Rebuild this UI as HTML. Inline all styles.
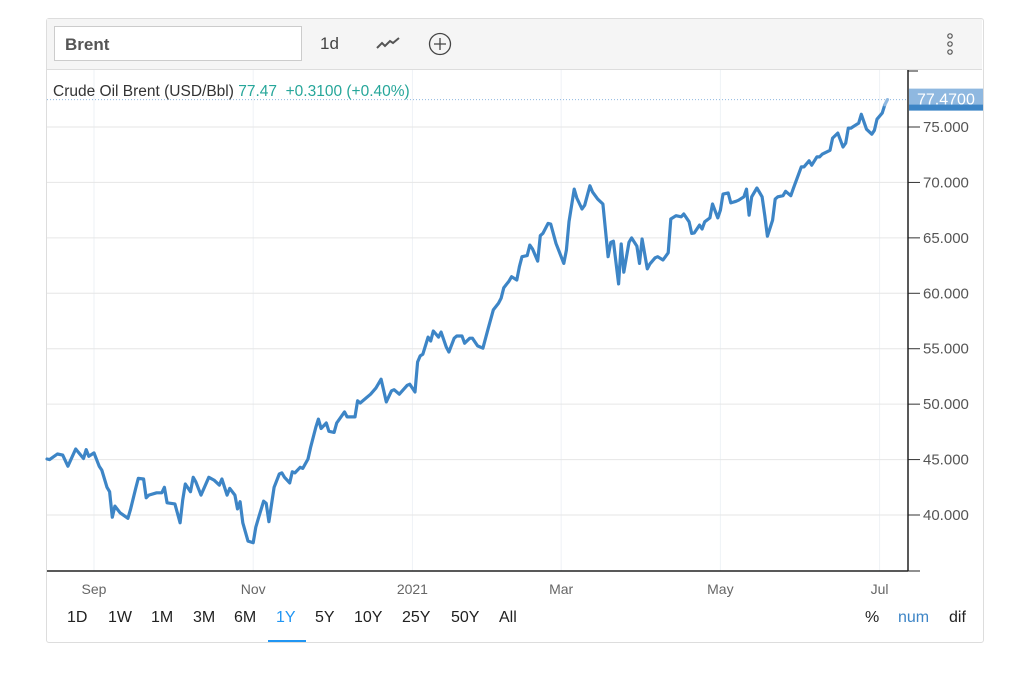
<!DOCTYPE html>
<html><head><meta charset="utf-8">
<style>
body{margin:0;width:1014px;height:673px;background:#fff;font-family:"Liberation Sans",sans-serif;position:relative;overflow:hidden}
#frame{position:absolute;left:46px;top:18px;width:936px;height:623px;border:1px solid #ddd;border-radius:3px}
#toolbar{position:absolute;left:47px;top:19px;width:935px;height:50px;background:#f5f5f5;border-bottom:1px solid #ddd}
#search{position:absolute;left:54px;top:26px;width:248px;height:35px;background:#fff;border:1px solid #ccc;box-sizing:border-box;font-weight:bold;font-size:17px;color:#555;line-height:35px;padding-left:10px}
.tb{position:absolute;font-size:17px;color:#444}
.rng{position:absolute;top:609px;font-size:16px;color:#222}
</style></head><body>
<div id="frame"></div>
<div id="toolbar"></div>
<div id="search">Brent</div>
<div class="tb" style="left:320px;top:34px">1d</div>
<svg style="position:absolute;left:375px;top:34px" width="28" height="18"><polyline points="2,14 7,9 10,12 15,7 18,9 24,4" fill="none" stroke="#555" stroke-width="2"/></svg>
<svg style="position:absolute;left:427px;top:31px" width="26" height="26"><circle cx="13" cy="13" r="10.5" fill="none" stroke="#444" stroke-width="1.3"/><path d="M13 7v12M7 13h12" stroke="#444" stroke-width="1.3"/></svg>
<svg style="position:absolute;left:944px;top:32px" width="12" height="26"><circle cx="6" cy="4" r="2.2" fill="none" stroke="#555" stroke-width="1.2"/><circle cx="6" cy="12" r="2.2" fill="none" stroke="#555" stroke-width="1.2"/><circle cx="6" cy="20" r="2.2" fill="none" stroke="#555" stroke-width="1.2"/></svg>

<svg id="chart" style="position:absolute;left:0;top:0" width="1014" height="673"></svg>

<div style="position:absolute;left:53px;top:83px;font-size:15.5px;color:#333;white-space:nowrap">Crude Oil Brent (USD/Bbl) <span style="color:#26a69a">77.47 &nbsp;+0.3100 (+0.40%)</span></div>

<div class="rng" style="left:67px">1D</div>
<div class="rng" style="left:108px">1W</div>
<div class="rng" style="left:151px">1M</div>
<div class="rng" style="left:193px">3M</div>
<div class="rng" style="left:234px">6M</div>
<div class="rng" style="left:276px;color:#2196f3">1Y</div>
<div style="position:absolute;left:268px;top:640px;width:38px;height:2px;background:#2196f3"></div>
<div class="rng" style="left:315px">5Y</div>
<div class="rng" style="left:354px">10Y</div>
<div class="rng" style="left:402px">25Y</div>
<div class="rng" style="left:451px">50Y</div>
<div class="rng" style="left:499px">All</div>
<div class="rng" style="left:865px">%</div>
<div class="rng" style="left:898px;color:#3d85c6">num</div>
<div class="rng" style="left:949px">dif</div>

<script>
const days=[0,1,4,6,8,11,14,15,16,18,20,21,23,24,25,26,28,31,32,34,35,37,38,39,42,44,45,46,49,51,52,53,55,56,57,59,62,64,66,67,69,70,72,73,74,75,77,79,80,81,83,84,85,87,89,90,91,93,94,95,97,98,100,101,103,104,105,107,108,110,111,114,115,118,119,120,124,126,128,130,132,133,135,138,139,141,142,143,144,146,147,148,150,151,153,154,156,157,159,160,162,163,165,167,169,171,173,174,175,177,178,180,181,182,184,185,186,188,189,190,192,193,195,196,198,199,200,202,203,205,206,208,209,211,213,215,216,217,219,220,221,223,224,226,227,228,230,231,233,234,236,238,239,241,243,244,246,247,248,250,251,252,254,255,257,258,259,261,262,264,265,267,268,269,270,272,274,275,276,278,279,280,282,283,285,286,289,290,292,293,295,296,297,300,301,303,305,306,307,308,311,312,314,316,317,318,320,321,322];
const prices=[45.05,45.0,45.5,45.4,44.4,45.95,45.1,45.9,45.3,45.6,44.4,44.05,42.5,42.1,39.8,40.8,40.2,39.7,40.5,42.4,43.3,43.25,41.55,41.8,42.0,42.0,42.5,41.1,41.0,39.3,41.35,42.8,42.1,43.4,43.0,41.8,43.4,43.15,42.7,43.25,41.8,42.4,41.8,40.55,41.2,39.3,37.65,37.5,38.9,39.7,41.25,41.05,39.4,42.5,43.7,43.8,43.4,42.9,43.9,43.8,44.3,44.2,45.05,46.1,47.9,48.65,47.8,48.3,47.55,47.45,48.3,49.3,48.85,48.85,50.3,50.1,50.9,51.45,52.25,50.2,51.2,51.3,50.9,51.7,51.8,51.1,53.8,54.35,54.5,56.05,55.7,56.6,56.05,56.5,55.15,54.7,55.95,56.15,56.15,55.5,55.95,55.95,55.25,55.05,56.8,58.5,59.1,59.55,60.5,61.1,61.5,61.2,62.4,63.3,63.4,64.35,64.0,62.9,65.2,65.4,66.3,66.25,64.5,63.9,62.7,63.9,66.45,69.4,68.6,67.6,67.95,69.7,69.15,68.5,68.05,63.3,64.6,64.7,60.85,64.45,61.9,64.6,65.0,64.25,62.7,64.9,62.2,62.65,63.2,63.3,63.0,63.65,66.7,67.0,66.9,67.15,66.45,65.4,65.45,66.15,65.8,66.45,66.8,68.05,66.8,67.5,68.95,69.05,68.15,68.3,68.4,68.7,69.4,67.05,68.7,69.5,68.7,67.0,65.15,66.6,68.5,68.7,68.8,69.2,68.8,69.5,71.4,71.4,71.95,71.55,72.3,72.3,72.55,72.9,74.0,74.45,73.2,73.55,74.9,74.9,75.35,76.15,74.8,74.35,74.7,75.7,76.25,77.0,77.47];
const yTicks=[40,45,50,55,60,65,70,75];
const yTickLabels=["40.000","45.000","50.000","55.000","60.000","65.000","70.000","75.000"];
const monthDays=[18,79,140,197,258,319];
const monthLabels=["Sep","Nov","2021","Mar","May","Jul"];
const lastPrice=77.47;
const lastLabel="77.4700";

const L=47,R=908,T=70,B=571;
const xs=d=>L+d*2.61;
const ys=v=>127+(75-v)*11.086;
const NS="http://www.w3.org/2000/svg";
const svg=document.getElementById('chart');
function mk(t,a){const e=document.createElementNS(NS,t);for(const k in a)e.setAttribute(k,a[k]);svg.appendChild(e);return e;}

monthDays.forEach((d,i)=>{
  const g=mk('line',{x1:xs(d),x2:xs(d),y1:T,y2:B,stroke:'#eef2f6','stroke-width':1});
  
  
  const t=mk('text',{x:xs(d),y:594,'text-anchor':'middle','font-size':14,fill:'#666','font-family':'Liberation Sans, sans-serif'});
  t.textContent=monthLabels[i];
  
  
});
yTicks.forEach((v,i)=>{
  const g=mk('line',{x1:L,x2:R,y1:ys(v),y2:ys(v),stroke:'#e6e6e6','stroke-width':1});
  
  
  const tk=mk('line',{x1:R,x2:R+12,y1:ys(v),y2:ys(v),stroke:'#333','stroke-width':1});
  
  
  const t=mk('text',{x:923,y:ys(v)+5,'font-size':15,fill:'#555','font-family':'Liberation Sans, sans-serif'});
  t.textContent=yTickLabels[i];
  
  
});
const ax=mk('line',{x1:R,x2:R,y1:T,y2:B,stroke:'#222','stroke-width':1.5});


const axt=mk('line',{x1:R,x2:R+10,y1:T+1,y2:T+1,stroke:'#222','stroke-width':1});


const bx=mk('line',{x1:L,x2:R,y1:B,y2:B,stroke:'#222','stroke-width':1.5});


const bxt=mk('line',{x1:R,x2:R+12,y1:B,y2:B,stroke:'#222','stroke-width':1});



const dl=mk('line',{x1:L,x2:R,y1:ys(lastPrice),y2:ys(lastPrice),stroke:'#8fb8e0','stroke-width':1,'stroke-dasharray':'1,2'});



const n=prices.length;
let p='';
for(let i=0;i<n-1;i++)p+=(i?'L':'M')+xs(days[i]).toFixed(1)+' '+ys(prices[i]).toFixed(1);
const line=mk('path',{d:p,fill:'none',stroke:'#3d85c6','stroke-width':3.2,'stroke-linejoin':'round','stroke-linecap':'round'});


const tail=mk('path',{d:'M'+xs(days[n-2])+' '+ys(prices[n-2])+'L'+xs(days[n-1])+' '+ys(prices[n-1]),fill:'none',stroke:'#8fb8e0','stroke-width':3.2,'stroke-linecap':'round'});



const by=ys(lastPrice);
const bb=mk('rect',{x:R+1,y:by-11,width:74,height:17,fill:'#8fb8e0'});


const bs=mk('rect',{x:R+1,y:by+5,width:74,height:6,fill:'#3d85c6'});


const bt=mk('text',{x:917,y:by+5,'font-size':16,fill:'#fff','font-family':'Liberation Sans, sans-serif'});
bt.textContent=lastLabel;


</script>
</body></html>
